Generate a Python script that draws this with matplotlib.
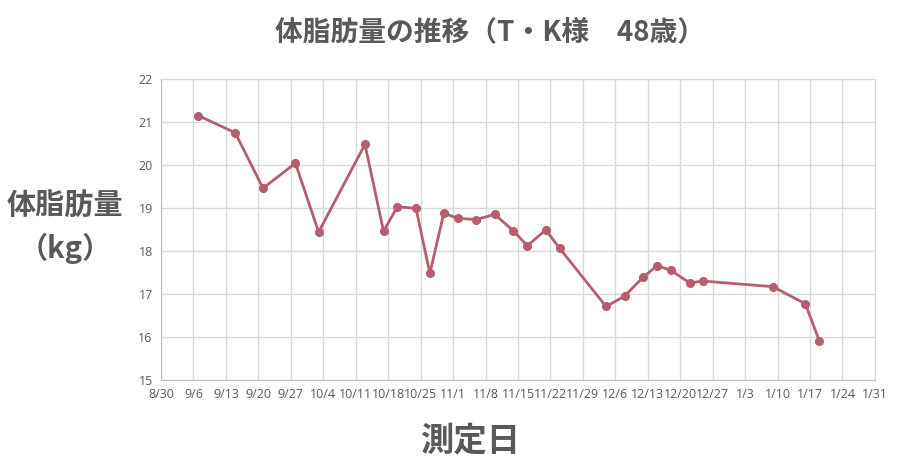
import datetime as dt
import matplotlib.pyplot as plt
import matplotlib.dates as mdates

plt.rcParams['font.family'] = ['Noto Sans CJK JP', 'DejaVu Sans']

# measurement dates (month, day) and body fat mass (kg)
dates_md = [(9, 7), (9, 15), (9, 21), (9, 28), (10, 3), (10, 13), (10, 17), (10, 20),
            (10, 24), (10, 27), (10, 30), (11, 2), (11, 6), (11, 10), (11, 14), (11, 17),
            (11, 21), (11, 24), (12, 4), (12, 8), (12, 12), (12, 15), (12, 18), (12, 22),
            (12, 25), (1, 9), (1, 16), (1, 19)]
fat_kg = [21.15, 20.75, 19.46, 20.04, 18.44, 20.48, 18.46, 19.03,
          18.99, 17.48, 18.88, 18.76, 18.73, 18.85, 18.47, 18.12,
          18.49, 18.06, 16.71, 16.95, 17.39, 17.66, 17.55, 17.26,
          17.30, 17.17, 16.77, 15.91]

def to_date(m, d):
    return dt.date(2021 if m < 8 else 2020, m, d)

dates = [to_date(m, d) for m, d in dates_md]
start = dt.date(2020, 8, 30)
end = dt.date(2021, 1, 31)
ticks = [start + dt.timedelta(days=7 * i) for i in range(23)]
tick_labels = [f"{t.month}/{t.day}" for t in ticks]

gray = '#595959'
grid = '#D9D9D9'

fig = plt.figure(figsize=(9.02, 4.70), dpi=100)
ax = fig.add_axes([0.1785, 0.1915, 0.7915, 0.6405])

ax.plot(dates, fat_kg, color='#B65D6E', lw=2, marker='o', ms=5.5, zorder=3)

ax.set_xlim(start, end)
ax.set_ylim(15, 22)
ax.set_xticks(ticks)
ax.set_xticklabels(tick_labels)
ax.set_yticks(range(15, 23))
ax.grid(True, color=grid, lw=1)
ax.set_axisbelow(True)
ax.tick_params(length=0, colors=gray, labelsize=9, pad=6)
for lab in ax.get_xticklabels() + ax.get_yticklabels():
    lab.set_family(['Open Sans', 'DejaVu Sans'])
for s in ax.spines.values():
    s.set_color(grid)
ax.spines['left'].set_color('#BFBFBF')
ax.spines['bottom'].set_color('#BFBFBF')

fig.text(0.543, 0.932, '体脂肪量の推移（T・K様　48歳）', ha='center', va='center',
         fontsize=20, fontweight='bold', color=gray)
fig.text(0.072, 0.565, '体脂肪量', ha='center', va='center',
         fontsize=21, fontweight='bold', color=gray)
fig.text(0.072, 0.472, '（kg）', ha='center', va='center',
         fontsize=21, fontweight='bold', color=gray)
fig.text(0.521, 0.062, '測定日', ha='center', va='center',
         fontsize=24, fontweight='bold', color=gray)

fig.savefig('out.png', dpi=100)
